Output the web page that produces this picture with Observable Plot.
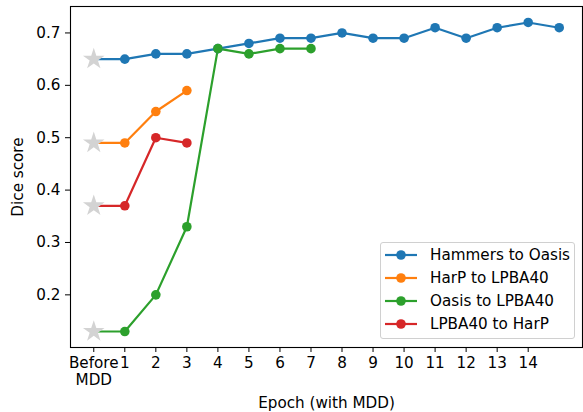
<!DOCTYPE html>
<html>
<head>
<meta charset="utf-8">
<script src="https://cdn.jsdelivr.net/npm/d3@7"></script>
<script src="https://cdn.jsdelivr.net/npm/@observablehq/plot@0.6"></script>
<style>
  body { margin: 0; background: #fff; }
  #wrap { position: relative; width: 583px; height: 412px; font-family: "DejaVu Sans", sans-serif; }
  #legend { position: absolute; left: 380px; top: 242px; width: 195px; height: 97px;
    border: 1px solid #d0d0d0; border-radius: 3px; background: rgba(255,255,255,0.8); box-sizing: border-box; }
  .row { position: absolute; left: 0; height: 20px; display: flex; align-items: center; font-size: 15.2px; color: #000; white-space: nowrap; }
  .row svg { margin-left: 4px; margin-right: 13px; }
</style>
</head>
<body>
<div id="wrap"><div id="chart"></div><div id="legend"></div></div>
<script>
const epochs = [0, 1, 2, 3, 4, 5, 6, 7, 8, 9, 10, 11, 12, 13, 14, 15];
const xTickLabels = ["Before\nMDD", "1", "2", "3", "4", "5", "6", "7", "8", "9", "10", "11", "12", "13", "14"];
const yTicks = [0.2, 0.3, 0.4, 0.5, 0.6, 0.7];
const seriesNames = ["Hammers to Oasis", "HarP to LPBA40", "Oasis to LPBA40", "LPBA40 to HarP"];
const seriesColors = ["#1f77b4", "#ff7f0e", "#2ca02c", "#d62728"];
const hammersToOasis = [0.65, 0.65, 0.66, 0.66, 0.67, 0.68, 0.69, 0.69, 0.70, 0.69, 0.69, 0.71, 0.69, 0.71, 0.72, 0.71];
const harpToLpba40 = [0.49, 0.49, 0.55, 0.59];
const oasisToLpba40 = [0.13, 0.13, 0.20, 0.33, 0.67, 0.66, 0.67, 0.67];
const lpba40ToHarp = [0.37, 0.37, 0.50, 0.49];

const allSeries = [hammersToOasis, harpToLpba40, oasisToLpba40, lpba40ToHarp];
const rows = [];
allSeries.forEach((vals, s) => vals.forEach((v, i) => rows.push({series: seriesNames[s], epoch: epochs[i], value: v})));
const lineRows = rows;
const dotRows = rows.filter(d => d.epoch > 0);
const starRows = rows.filter(d => d.epoch === 0);

const chart = Plot.plot({
  width: 583,
  height: 412,
  marginLeft: 70,
  marginRight: 1,
  marginTop: 6,
  marginBottom: 65,
  style: {fontFamily: "DejaVu Sans, sans-serif", fontSize: "15.2px", background: "white", color: "black"},
  x: {domain: [-0.75, 15.75]},
  y: {domain: [0.0995, 0.7505]},
  color: {domain: seriesNames, range: seriesColors},
  marks: [
    Plot.lineY(lineRows, {x: "epoch", y: "value", z: "series", stroke: "series", strokeWidth: 2.2}),
    Plot.dot(dotRows, {x: "epoch", y: "value", fill: "series", r: 4.8}),
    Plot.dot(starRows, {x: "epoch", y: "value", symbol: "star", fill: "#d3d3d3", r: 6.8}),
    Plot.frame({stroke: "black", strokeWidth: 1.1}),
    Plot.axisX({ticks: d3.range(15), tickFormat: i => xTickLabels[i], tickSize: 5, tickPadding: 4, lineHeight: 1.1,
      label: "Epoch (with MDD)", labelAnchor: "center", labelArrow: "none", labelOffset: 60, fontSize: 15.2}),
    Plot.axisY({ticks: yTicks, tickFormat: d => d.toFixed(1), tickSize: 5, tickPadding: 5,
      label: "Dice score", labelAnchor: "center", labelArrow: "none", labelOffset: 58, fontSize: 15.2})
  ]
});
document.getElementById("chart").appendChild(chart);

const legend = document.getElementById("legend");
seriesNames.forEach((name, i) => {
  const row = document.createElement("div");
  row.className = "row";
  row.style.top = (2 + i * 23) + "px";
  row.innerHTML = `<svg width="32" height="12"><line x1="0" y1="6" x2="32" y2="6" stroke="${seriesColors[i]}" stroke-width="2.2"/><circle cx="16" cy="6" r="4.8" fill="${seriesColors[i]}"/></svg><span>${name}</span>`;
  legend.appendChild(row);
});
</script>
</body>
</html>
